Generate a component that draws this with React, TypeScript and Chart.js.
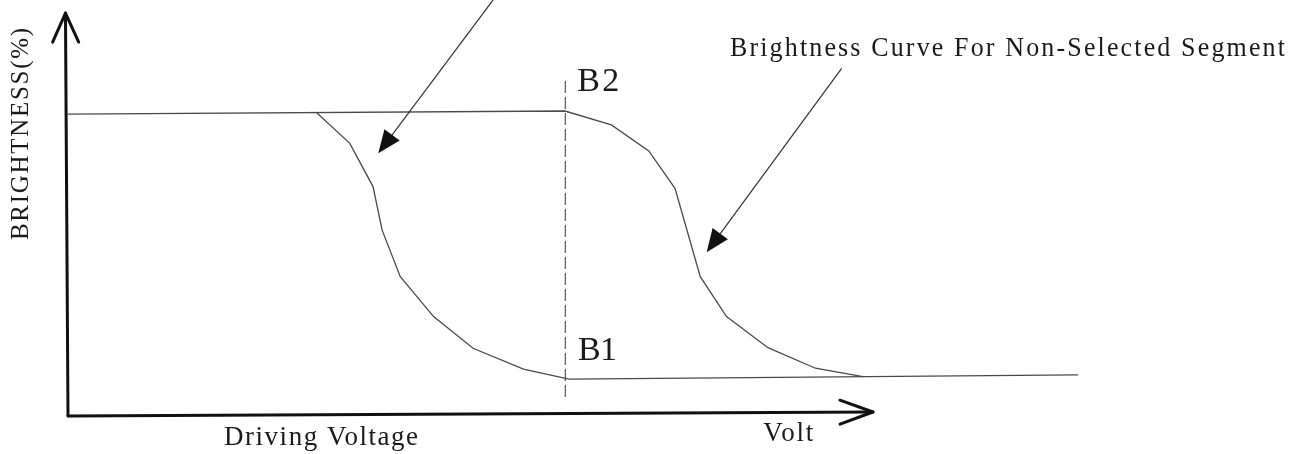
import React, { useEffect, useRef } from "react";
import { Chart, registerables } from "chart.js";

Chart.register(...registerables);

const FONT = '"Liberation Serif", "Times New Roman", Times, serif';

// Driving voltage (arbitrary units 0-100) and brightness (%) of the two curves
const selectedVolt = [24.6, 27.9, 30.2, 31.1, 32.9, 36.2, 40.1, 45.1, 49.6, 100];
const selectedBrightness = [100.4, 90.2, 75.9, 61.5, 46.1, 32.9, 22.4, 15.5, 12.2, 13.6];

const nonSelectedVolt = [0, 49.2, 53.8, 57.5, 60.1, 62.6, 65.2, 69.3, 74.0, 78.7];
const nonSelectedBrightness = [99.9, 100.9, 96.3, 87.7, 75.3, 46.1, 32.9, 22.6, 15.8, 13.0];

// B1 / B2 marker (dashed vertical)
const markerVolt = [49.24, 49.24];
const markerBrightness = [6.3, 110.8];

// axis end points (data units)
const yAxisVolt = [0, -0.25];
const yAxisBrightness = [0, 133.3];
const xAxisVolt = [0, 79.7];
const xAxisBrightness = [0, 1.32];

// annotation arrows [from, to] in data units
const arrowSelectedVolt = [42.08, 30.72];
const arrowSelectedBrightness = [137.6, 86.9];
const arrowNonSelectedVolt = [76.6, 63.23];
const arrowNonSelectedBrightness = [115.0, 54.2];

// text
const labelTexts = ["B2", "B1", "Brightness Curve For Non-Selected Segment", "Driving Voltage", "Volt"];
const yTitle = "BRIGHTNESS(%)";

const toPoints = (xs: number[], ys: number[]) => xs.map((x, i) => ({ x, y: ys[i] }));

const labelStyle = [
  { x: 50.43, y: 107.5, size: 34, width: 42, sy: 1 },
  { x: 50.5, y: 18.53, size: 34, width: 39, sy: 1 },
  { x: 65.54, y: 119.2, size: 26, width: 555, sy: 1.06 },
  { x: 15.45, y: -9.59, size: 27, width: 194, sy: 1.04 },
  { x: 68.84, y: -8.27, size: 27, width: 50, sy: 1 },
];
const yTitleStyle = { x: -3.93, y: 58.23, size: 25, width: 212, sy: 1 };

function drawFitted(ctx: any, text: string, x: number, y: number, size: number, width: number, sy: number, rotate: boolean) {
  ctx.save();
  ctx.font = `${size}px ${FONT}`;
  ctx.textAlign = "left";
  ctx.textBaseline = "alphabetic";
  ctx.fillStyle = "#1a1a1a";
  ctx.translate(x, y);
  if (rotate) ctx.rotate(-Math.PI / 2);
  ctx.scale(1, sy);
  if ("letterSpacing" in ctx) ctx.letterSpacing = "0px";
  const natural = ctx.measureText(text).width;
  if ("letterSpacing" in ctx && text.length > 1) {
    ctx.letterSpacing = `${(width - natural) / (text.length - 1)}px`;
    ctx.fillText(text, 0, 0);
    ctx.letterSpacing = "0px";
  } else {
    ctx.scale(width / natural, 1);
    ctx.fillText(text, 0, 0);
  }
  ctx.restore();
}

const schematicPlugin = {
  id: "schematic",
  beforeDraw(chart: any) {
    const { ctx, width, height } = chart;
    ctx.save();
    ctx.fillStyle = "#ffffff";
    ctx.fillRect(0, 0, width, height);
    ctx.restore();
  },
  afterDatasetsDraw(chart: any) {
    const { ctx } = chart;
    const xs = chart.scales.x;
    const ys = chart.scales.y;
    const P = (vx: number, vy: number) => [xs.getPixelForValue(vx), ys.getPixelForValue(vy)];

    // axes with open chevrons
    const drawAxis = (vx: number[], vy: number[], len: number, half: number) => {
      const [x0, y0] = P(vx[0], vy[0]);
      const [x1, y1] = P(vx[1], vy[1]);
      const d = Math.hypot(x1 - x0, y1 - y0);
      const ux = (x1 - x0) / d, uy = (y1 - y0) / d;
      const nx = -uy, ny = ux;
      ctx.save();
      ctx.strokeStyle = "#111";
      ctx.lineWidth = 3;
      ctx.lineCap = "round";
      ctx.lineJoin = "round";
      ctx.beginPath();
      ctx.moveTo(x0, y0);
      ctx.lineTo(x1, y1);
      ctx.stroke();
      ctx.beginPath();
      ctx.moveTo(x1 - ux * len + nx * half, y1 - uy * len + ny * half);
      ctx.lineTo(x1, y1);
      ctx.lineTo(x1 - ux * len - nx * half, y1 - uy * len - ny * half);
      ctx.stroke();
      ctx.restore();
    };
    drawAxis(yAxisVolt, yAxisBrightness, 29, 13);
    drawAxis(xAxisVolt, xAxisBrightness, 33, 12);

    // annotation arrows with filled heads
    const drawArrow = (vx: number[], vy: number[]) => {
      const [x0, y0] = P(vx[0], vy[0]);
      const [x1, y1] = P(vx[1], vy[1]);
      const d = Math.hypot(x1 - x0, y1 - y0);
      const ux = (x1 - x0) / d, uy = (y1 - y0) / d;
      const nx = -uy, ny = ux;
      const len = 23, half = 9.5;
      ctx.save();
      ctx.strokeStyle = "#333";
      ctx.lineWidth = 1.2;
      ctx.beginPath();
      ctx.moveTo(x0, y0);
      ctx.lineTo(x1 - ux * len * 0.6, y1 - uy * len * 0.6);
      ctx.stroke();
      ctx.fillStyle = "#111";
      ctx.beginPath();
      ctx.moveTo(x1, y1);
      ctx.lineTo(x1 - ux * len + nx * half, y1 - uy * len + ny * half);
      ctx.lineTo(x1 - ux * len - nx * half, y1 - uy * len - ny * half);
      ctx.closePath();
      ctx.fill();
      ctx.restore();
    };
    drawArrow(arrowSelectedVolt, arrowSelectedBrightness);
    drawArrow(arrowNonSelectedVolt, arrowNonSelectedBrightness);

    // texts
    labelTexts.forEach((t, i) => {
      const s = labelStyle[i];
      const [px, py] = P(s.x, s.y);
      drawFitted(ctx, t, px, py, s.size, s.width, s.sy, false);
    });
    const [tx, ty] = P(yTitleStyle.x, yTitleStyle.y);
    drawFitted(ctx, yTitle, tx, ty, yTitleStyle.size, yTitleStyle.width, yTitleStyle.sy, true);
  },
};

export default function App() {
  const canvasRef = useRef<HTMLCanvasElement | null>(null);

  useEffect(() => {
    const canvas = canvasRef.current;
    if (!canvas) return;
    const chart = new Chart(canvas, {
      type: "scatter",
      data: {
        datasets: [
          {
            label: "Non-Selected Segment",
            data: toPoints(nonSelectedVolt, nonSelectedBrightness),
            showLine: true,
            borderColor: "#4a4a4a",
            borderWidth: 1.3,
            pointRadius: 0,
            tension: 0,
            clip: false as any,
          },
          {
            label: "Selected Segment",
            data: toPoints(selectedVolt, selectedBrightness),
            showLine: true,
            borderColor: "#4a4a4a",
            borderWidth: 1.3,
            pointRadius: 0,
            tension: 0,
            clip: false as any,
          },
          {
            label: "B1-B2",
            data: toPoints(markerVolt, markerBrightness),
            showLine: true,
            borderColor: "#555",
            borderWidth: 1.2,
            borderDash: [12, 4],
            pointRadius: 0,
            clip: false as any,
          },
        ],
      },
      options: {
        responsive: false,
        animation: false,
        events: [],
        layout: { padding: { left: 68, right: 222, top: 14, bottom: 38 } },
        plugins: {
          legend: { display: false },
          tooltip: { enabled: false },
          title: { display: false },
        },
        scales: {
          x: { type: "linear", min: 0, max: 100, display: false },
          y: { type: "linear", min: 0, max: 133, display: false },
        },
      },
      plugins: [schematicPlugin],
    });
    return () => chart.destroy();
  }, []);

  return (
    <div style={{ position: "fixed", left: 0, top: 0, width: 1300, height: 454, background: "#fff" }}>
      <canvas ref={canvasRef} width={1300} height={454} style={{ display: "block" }} />
    </div>
  );
}
